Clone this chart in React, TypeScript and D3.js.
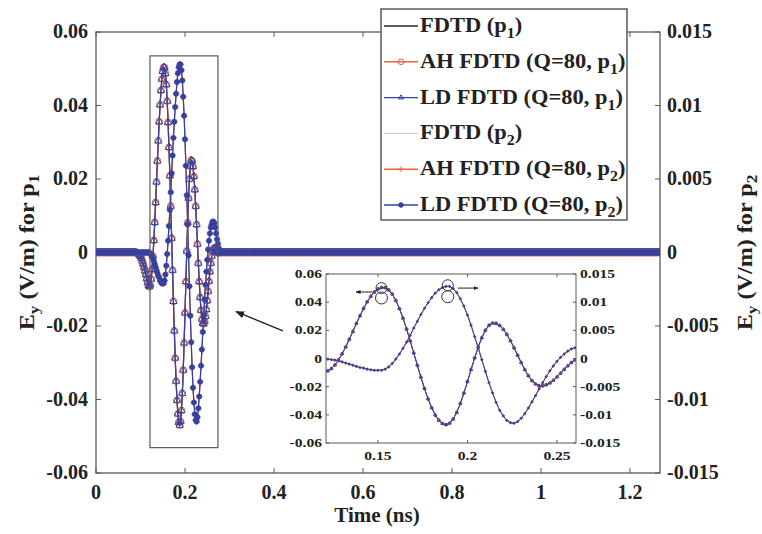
import React from 'react';
import * as d3 from 'd3';

// ---- data ----
const T_START = 0.09; // ns, first sample of the active window
const T_STEP = 0.002; // ns
const T_END = 1.2674; // ns, right edge of main axes

// Ey at probe p1 (V/m), t = 0.090 ... 0.300 ns, step 0.002
const P1_ACTIVE = [
  0, -0.0001, -0.0002, -0.0004, -0.0007, -0.0011, -0.0016, -0.0023, -0.0031, -0.004, -0.005, -0.006, -0.0071, -0.0081, -0.0089, -0.0093,
  -0.0088, -0.0072, -0.0046, -0.001, 0.0033, 0.0082, 0.0136, 0.0192, 0.0249, 0.0304, 0.0356, 0.0402, 0.0441, 0.0472, 0.0493, 0.0504,
  0.0503, 0.0487, 0.0457, 0.0412, 0.0354, 0.0286, 0.0209, 0.0126, 0.0039, -0.0048, -0.0133, -0.0213, -0.0287, -0.035, -0.0402, -0.0439, -0.0462, -0.047,
  -0.046, -0.043, -0.0383, -0.032, -0.0246, -0.0164, -0.0079, 0.0004, 0.0081, 0.0148, 0.02, 0.0235, 0.0251,
  0.0249, 0.0234, 0.0207, 0.0171, 0.0126, 0.0076, 0.0023, -0.0029, -0.0079, -0.0122, -0.0157, -0.0181, -0.0193,
  -0.0194, -0.0187, -0.0174, -0.0155, -0.0131, -0.0105, -0.0078, -0.0052, -0.0029, -0.001, 0.0004, 0.0011, 0.0011, 0.0008, 0.0004, 0.0001, -0.0001, -0.0001,
  0, 0, 0, 0, 0, 0, 0, 0, 0, 0, 0, 0,
];

// Ey at probe p2 (V/m), t = 0.090 ... 0.300 ns, step 0.002
const P2_ACTIVE = [
  0, 0, 0, 0, 0, 0, 0, 0, 0, 0, 0, 0, 0, 0, 0,
  0, -0.0001, -0.0002, -0.0003, -0.0004, -0.0006, -0.0008, -0.001, -0.0012, -0.0014, -0.0016, -0.0017, -0.0019, -0.002, -0.0021, -0.0021,
  -0.0021, -0.0019, -0.0015, -0.0009, -0.0001, 0.0008, 0.0018, 0.0029, 0.0041, 0.0054, 0.0066, 0.0078, 0.0089, 0.0099, 0.0108, 0.0116, 0.0122, 0.0126, 0.0128,
  0.0128, 0.0124, 0.0117, 0.0106, 0.0093, 0.0077, 0.0059, 0.0039, 0.0019, -0.0002, -0.0023, -0.0043, -0.0061, -0.0078, -0.0092, -0.0102, -0.011, -0.0114,
  -0.0115, -0.0112, -0.0106, -0.0098, -0.0088, -0.0077, -0.0066, -0.0054, -0.0043, -0.0032, -0.0022, -0.0013, -0.0005, 0.0002, 0.0008, 0.0013, 0.0017, 0.0019, 0.0021, 0.0021, 0.002, 0.0017, 0.0013, 0.0009, 0.0006, 0.0003, 0.0001, 0,
  0, 0, 0, 0, 0, 0, 0, 0, 0, 0,
];

const X_TICKS = [0, 0.2, 0.4, 0.6, 0.8, 1, 1.2];
const Y_LEFT_TICKS = [-0.06, -0.04, -0.02, 0, 0.02, 0.04, 0.06];
const Y_RIGHT_TICKS = [-0.015, -0.01, -0.005, 0, 0.005, 0.01, 0.015];
const INSET_X_TICKS = [0.15, 0.2, 0.25];
const INSET_X_DOMAIN = [0.121, 0.2606];
const ZOOM_BOX_T = [0.1213, 0.274];
const ZOOM_BOX_V = [-0.0531, 0.0535];

const SERIES_NAMES = ['FDTD', 'AH FDTD', 'LD FDTD', 'FDTD', 'AH FDTD', 'LD FDTD'];
const SERIES_Q = [false, true, true, false, true, true];
const SERIES_PROBE = ['1', '1', '1', '2', '2', '2'];
const SERIES_COLORS = ['#2a2a2a', '#e4653f', '#3441a2', '#b8b8b8', '#e4653f', '#3441a2'];
const SERIES_MARKERS = ['none', 'circle', 'triangle', 'none', 'plus', 'dot'];

// ---- layout ----
const W = 762;
const H = 534;
const MAIN = { left: 96, right: 660, top: 32, bottom: 473 };
const INSET = { left: 326, right: 576, top: 274, bottom: 443 };
const FONT = '"Liberation Serif", "Times New Roman", Times, "DejaVu Serif", serif';
const TXT = { fontFamily: FONT, fontWeight: 700 } as const;

const N = Math.floor(T_END / T_STEP + 1e-9) + 1;
const TIMES = d3.range(N).map((i) => i * T_STEP);
const valueAt = (arr: number[], t: number) => {
  const idx = Math.round((t - T_START) / T_STEP);
  return idx >= 0 && idx < arr.length ? arr[idx] : 0;
};
const P1 = TIMES.map((t) => valueAt(P1_ACTIVE, t));
const P2 = TIMES.map((t) => valueAt(P2_ACTIVE, t));

function markerPath(type: string, pts: [number, number][], s: number): string {
  let d = '';
  for (const [x, y] of pts) {
    if (type === 'circle' || type === 'dot') {
      d += `M${x - s},${y}a${s},${s} 0 1,0 ${2 * s},0a${s},${s} 0 1,0 ${-2 * s},0`;
    } else if (type === 'triangle') {
      d += `M${x},${y - s}L${x + s * 0.87},${y + s * 0.5}L${x - s * 0.87},${y + s * 0.5}Z`;
    } else if (type === 'plus') {
      d += `M${x - s},${y}H${x + s}M${x},${y - s}V${y + s}`;
    }
  }
  return d;
}

function SeriesMarks({ type, color, pts, size, lineWidth }: any) {
  const line = d3.line<[number, number]>().x((p) => p[0]).y((p) => p[1]);
  return (
    <g>
      <path d={line(pts) || ''} fill="none" stroke={color} strokeWidth={lineWidth} />
      {type !== 'none' && (
        <path
          d={markerPath(type, pts, size)}
          fill={type === 'dot' ? color : 'none'}
          stroke={color}
          strokeWidth={type === 'dot' ? 0.4 : 1}
        />
      )}
    </g>
  );
}

const MARKER_SIZE_MAIN: Record<string, number> = { circle: 3.4, triangle: 4.2, plus: 3.2, dot: 2.7, none: 0 };
const MARKER_SIZE_INSET: Record<string, number> = { circle: 1.5, triangle: 1.7, plus: 1.6, dot: 1.1, none: 0 };

export default function App() {
  const x = d3.scaleLinear().domain([0, T_END]).range([MAIN.left, MAIN.right]);
  const yL = d3.scaleLinear().domain([-0.06, 0.06]).range([MAIN.bottom, MAIN.top]);
  const yR = d3.scaleLinear().domain([-0.015, 0.015]).range([MAIN.bottom, MAIN.top]);

  const xi = d3.scaleLinear().domain(INSET_X_DOMAIN).range([INSET.left, INSET.right]);
  const yiL = d3.scaleLinear().domain([-0.06, 0.06]).range([INSET.bottom, INSET.top]);
  const yiR = d3.scaleLinear().domain([-0.015, 0.015]).range([INSET.bottom, INSET.top]);

  const mainPts = (probe: string): [number, number][] =>
    TIMES.map((t, i) => [x(t), probe === '1' ? yL(P1[i]) : yR(P2[i])]);
  const insetIdx = TIMES.map((t, i) => i).filter((i) => TIMES[i] >= INSET_X_DOMAIN[0] - 0.004 && TIMES[i] <= INSET_X_DOMAIN[1] + 0.004);
  const insetPts = (probe: string): [number, number][] =>
    insetIdx.map((i) => [xi(TIMES[i]), probe === '1' ? yiL(P1[i]) : yiR(P2[i])]);

  const axisColor = '#5a5a5a';
  const tickLen = 5;

  const legendX = 381;
  const legendY = 9;
  const legendW = 246;
  const legendH = 211;
  const rowY = (i: number) => 26 + i * 35.8;

  return (
    <svg width={W} height={H} style={{ position: 'absolute', left: 0, top: 0, background: '#fff', fontFamily: FONT }}>
      <defs>
        <clipPath id="mainClip">
          <rect x={MAIN.left} y={MAIN.top} width={MAIN.right - MAIN.left} height={MAIN.bottom - MAIN.top} />
        </clipPath>
        <clipPath id="insetClip">
          <rect x={INSET.left} y={INSET.top} width={INSET.right - INSET.left} height={INSET.bottom - INSET.top} />
        </clipPath>
        <marker id="ah" viewBox="0 0 10 10" refX="9" refY="5" markerWidth="7" markerHeight="7" orient="auto-start-reverse">
          <path d="M0,1 L10,5 L0,9 Z" fill="#222" />
        </marker>
        <marker id="ahs" viewBox="0 0 10 10" refX="9" refY="5" markerWidth="5" markerHeight="5" orient="auto-start-reverse">
          <path d="M0,1 L10,5 L0,9 Z" fill="#222" />
        </marker>
      </defs>
      <rect x={0} y={0} width={W} height={H} fill="#fff" />

      {/* main frame */}
      <rect x={MAIN.left} y={MAIN.top} width={MAIN.right - MAIN.left} height={MAIN.bottom - MAIN.top} fill="none" stroke={axisColor} strokeWidth={1.3} />

      {/* ticks */}
      {X_TICKS.map((t) => (
        <g key={'xt' + t}>
          <line x1={x(t)} x2={x(t)} y1={MAIN.bottom} y2={MAIN.bottom - tickLen} stroke={axisColor} />
          <line x1={x(t)} x2={x(t)} y1={MAIN.top} y2={MAIN.top + tickLen} stroke={axisColor} />
          <text x={x(t)} y={MAIN.bottom + 26} textAnchor="middle" fontSize={20} fill="#222" style={TXT}>{String(t)}</text>
        </g>
      ))}
      {Y_LEFT_TICKS.map((v) => (
        <g key={'yl' + v}>
          <line x1={MAIN.left} x2={MAIN.left + tickLen} y1={yL(v)} y2={yL(v)} stroke={axisColor} />
          <text x={MAIN.left - 8} y={yL(v) + 6} textAnchor="end" fontSize={20} fill="#222" style={TXT}>{String(v)}</text>
        </g>
      ))}
      {Y_RIGHT_TICKS.map((v) => (
        <g key={'yr' + v}>
          <line x1={MAIN.right} x2={MAIN.right - tickLen} y1={yR(v)} y2={yR(v)} stroke={axisColor} />
          <text x={MAIN.right + 7} y={yR(v) + 6} textAnchor="start" fontSize={20} fill="#222" style={TXT}>{String(v)}</text>
        </g>
      ))}

      {/* axis titles */}
      <text x={(MAIN.left + MAIN.right) / 2 - 1} y={522} textAnchor="middle" fontSize={21} fill="#222" style={TXT}>Time (ns)</text>
      <text transform={`translate(34,${(MAIN.top + MAIN.bottom) / 2}) rotate(-90) scale(1.15,1)`} textAnchor="middle" fontSize={21} fill="#222" style={TXT}>
        E<tspan dy={5} fontSize={15}>y</tspan><tspan dy={-5}> (V/m) for p</tspan><tspan dy={5} fontSize={15}>1</tspan>
      </text>
      <text transform={`translate(752,${(MAIN.top + MAIN.bottom) / 2}) rotate(-90) scale(1.15,1)`} textAnchor="middle" fontSize={21} fill="#222" style={TXT}>
        E<tspan dy={5} fontSize={15}>y</tspan><tspan dy={-5}> (V/m) for p</tspan><tspan dy={5} fontSize={15}>2</tspan>
      </text>

      {/* main series */}
      <g clipPath="url(#mainClip)">
        {SERIES_NAMES.map((_, i) => (
          <SeriesMarks
            key={'ms' + i}
            type={SERIES_MARKERS[i]}
            color={SERIES_COLORS[i]}
            pts={mainPts(SERIES_PROBE[i])}
            size={MARKER_SIZE_MAIN[SERIES_MARKERS[i]]}
            lineWidth={i === 3 ? 0.8 : 1.2}
          />
        ))}
      </g>

      {/* zoom box */}
      <rect
        x={x(ZOOM_BOX_T[0])}
        y={yL(ZOOM_BOX_V[1])}
        width={x(ZOOM_BOX_T[1]) - x(ZOOM_BOX_T[0])}
        height={yL(ZOOM_BOX_V[0]) - yL(ZOOM_BOX_V[1])}
        fill="none"
        stroke={axisColor}
        strokeWidth={1.2}
      />
      {/* pointer arrow */}
      <line x1={x(0.42)} y1={yL(-0.0213)} x2={x(0.3146)} y2={yL(-0.0161)} stroke="#222" strokeWidth={1.3} markerEnd="url(#ah)" />

      {/* inset */}
      <rect x={INSET.left} y={INSET.top} width={INSET.right - INSET.left} height={INSET.bottom - INSET.top} fill="#fff" stroke={axisColor} strokeWidth={1} />
      <g clipPath="url(#insetClip)">
        {SERIES_NAMES.map((_, i) => (
          <SeriesMarks
            key={'is' + i}
            type={SERIES_MARKERS[i]}
            color={SERIES_COLORS[i]}
            pts={insetPts(SERIES_PROBE[i])}
            size={MARKER_SIZE_INSET[SERIES_MARKERS[i]]}
            lineWidth={1}
          />
        ))}
      </g>
      {INSET_X_TICKS.map((t) => (
        <g key={'ixt' + t}>
          <line x1={xi(t)} x2={xi(t)} y1={INSET.bottom} y2={INSET.bottom - 3} stroke={axisColor} />
          <line x1={xi(t)} x2={xi(t)} y1={INSET.top} y2={INSET.top + 3} stroke={axisColor} />
          <text transform={`translate(${xi(t)},${INSET.bottom + 17}) scale(1.2,1)`} textAnchor="middle" fontSize={13} fill="#222" style={TXT}>{String(t)}</text>
        </g>
      ))}
      {Y_LEFT_TICKS.map((v) => (
        <g key={'iyl' + v}>
          <line x1={INSET.left} x2={INSET.left + 3} y1={yiL(v)} y2={yiL(v)} stroke={axisColor} />
          <text transform={`translate(${INSET.left - 4},${yiL(v) + 4}) scale(1.2,1)`} textAnchor="end" fontSize={13} fill="#222" style={TXT}>{String(v)}</text>
        </g>
      ))}
      {Y_RIGHT_TICKS.map((v) => (
        <g key={'iyr' + v}>
          <line x1={INSET.right} x2={INSET.right - 3} y1={yiR(v)} y2={yiR(v)} stroke={axisColor} />
          <text transform={`translate(${INSET.right + 4},${yiR(v) + 4}) scale(1.2,1)`} textAnchor="start" fontSize={13} fill="#222" style={TXT}>{String(v)}</text>
        </g>
      ))}
      {/* peak annotations */}
      <circle cx={xi(0.152)} cy={yiL(0.05)} r={5.5} fill="none" stroke="#333" strokeWidth={1} />
      <circle cx={xi(0.152)} cy={yiL(0.043)} r={6} fill="none" stroke="#333" strokeWidth={1} />
      <circle cx={xi(0.189)} cy={yiL(0.052)} r={5.5} fill="none" stroke="#333" strokeWidth={1} />
      <circle cx={xi(0.189)} cy={yiL(0.0439)} r={6} fill="none" stroke="#333" strokeWidth={1} />
      <line x1={xi(0.1467)} y1={yiL(0.0472)} x2={xi(0.1378)} y2={yiL(0.0472)} stroke="#222" strokeWidth={1} markerEnd="url(#ahs)" />
      <line x1={xi(0.1947)} y1={yiL(0.05)} x2={xi(0.2059)} y2={yiL(0.05)} stroke="#222" strokeWidth={1} markerEnd="url(#ahs)" />

      {/* legend */}
      <rect x={legendX} y={legendY} width={legendW} height={legendH} fill="#fff" stroke={axisColor} strokeWidth={1.5} />
      {SERIES_NAMES.map((name, i) => {
        const yy = rowY(i);
        const type = SERIES_MARKERS[i];
        const pts: [number, number][] = [[legendX + 3, yy], [legendX + 37, yy]];
        return (
          <g key={'lg' + i}>
            <line x1={pts[0][0]} x2={pts[1][0]} y1={yy} y2={yy} stroke={SERIES_COLORS[i]} strokeWidth={i === 3 ? 0.8 : 1.4} />
            {type !== 'none' && (
              <path
                d={markerPath(type, [[legendX + 20, yy]], type === 'dot' ? 2.3 : 2.8)}
                fill={type === 'dot' ? SERIES_COLORS[i] : 'none'}
                stroke={SERIES_COLORS[i]}
                strokeWidth={1}
              />
            )}
            <text transform={`translate(${legendX + 39},${yy + 6}) scale(1.07,1)`} fontSize={21} fill="#222" style={TXT}>
              {name + (SERIES_Q[i] ? ' (Q=80, p' : ' (p')}
              <tspan dy={6} fontSize={15}>{SERIES_PROBE[i]}</tspan>
              <tspan dy={-6}>)</tspan>
            </text>
          </g>
        );
      })}
    </svg>
  );
}
